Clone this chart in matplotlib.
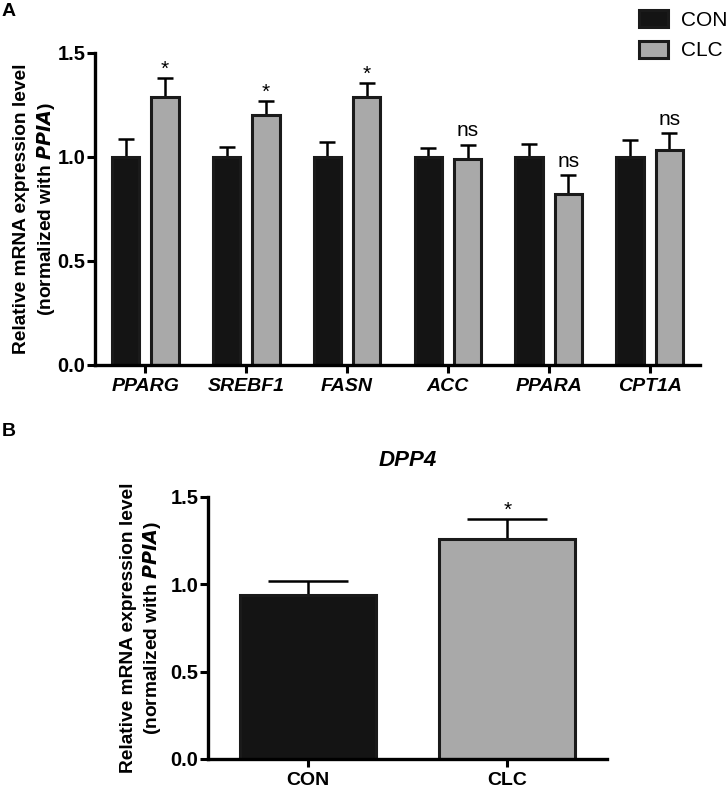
import numpy as np
import matplotlib
matplotlib.use("Agg")
import matplotlib.pyplot as plt
import matplotlib.patches as mpatches

plt.rcParams["font.family"] = ["Liberation Sans", "DejaVu Sans"]

# panel A data
genes = ["PPARG", "SREBF1", "FASN", "ACC", "PPARA", "CPT1A"]
con_mean = [1.0, 1.0, 1.0, 1.0, 1.0, 1.0]
con_err = [0.087, 0.05, 0.07, 0.045, 0.063, 0.08]
clc_mean = [1.29, 1.20, 1.29, 0.99, 0.82, 1.035]
clc_err = [0.09, 0.07, 0.065, 0.07, 0.095, 0.08]
sig_a = ["*", "*", "*", "ns", "ns", "ns"]

# panel B data
groups_b = ["CON", "CLC"]
dpp4_mean = [0.94, 1.26]
dpp4_err = [0.08, 0.115]
sig_b = ["", "*"]

CON_C = "#141414"
CLC_C = "#a9a9a9"
EDGE = "#1a1a1a"

fig = plt.figure(figsize=(7.28, 7.91), dpi=100)
fig.patch.set_facecolor("white")

def style_axis(ax):
    for s in ["top", "right"]:
        ax.spines[s].set_visible(False)
    for s in ["left", "bottom"]:
        ax.spines[s].set_linewidth(2.4)
    ax.tick_params(axis="both", direction="out", width=2.2, length=6)
    ax.tick_params(axis="y", pad=1)
    ax.set_ylim(0, 1.5)
    ax.set_yticks([0, 0.5, 1.0, 1.5])
    ax.set_yticklabels(["0.0", "0.5", "1.0", "1.5"], fontsize=14.5, fontweight="bold")

def ylab(ax, pad):
    ax.set_ylabel("Relative mRNA expression level\n(normalized with $\\mathbfit{PPIA}$)",
                  fontsize=13.8, fontweight="bold", labelpad=pad, linespacing=1.3)

# ─── Panel A ───
axA = fig.add_axes([95/728, 1-365/791, 605/728, 312/791])
x = np.arange(len(genes))
w, off = 0.27, 0.195
axA.bar(x - off, con_mean, w, color=CON_C, edgecolor=EDGE, linewidth=2.2, zorder=2, label="CON")
axA.bar(x + off, clc_mean, w, color=CLC_C, edgecolor=EDGE, linewidth=2.2, zorder=2, label="CLC")
zeros = np.zeros(len(genes))
axA.errorbar(x - off, con_mean, yerr=[zeros, con_err], fmt="none", ecolor="black",
             elinewidth=1.8, capsize=6, capthick=1.8, zorder=1)
axA.errorbar(x + off, clc_mean, yerr=[zeros, clc_err], fmt="none", ecolor="black",
             elinewidth=1.8, capsize=6, capthick=1.8, zorder=1)
for i, s in enumerate(sig_a):
    top = clc_mean[i] + clc_err[i]
    if s == "*":
        axA.text(x[i] + off, top - 0.005, s, ha="center", va="bottom", fontsize=15)
    else:
        axA.text(x[i] + off, top + 0.02, s, ha="center", va="bottom", fontsize=15)
axA.set_xlim(-0.5, 5.5)
axA.set_xticks(x)
axA.set_xticklabels(genes, fontsize=14, fontweight="bold", fontstyle="italic")
style_axis(axA)
ylab(axA, 0)

fig.legend(handles=[mpatches.Patch(facecolor=CON_C, edgecolor=EDGE, linewidth=2.2, label="CON"),
                    mpatches.Patch(facecolor=CLC_C, edgecolor=EDGE, linewidth=2.2, label="CLC")],
           loc="upper left", bbox_to_anchor=(639/728, 1-10/791), frameon=False,
           fontsize=15, handlelength=1.4, handleheight=0.85, handletextpad=0.6,
           labelspacing=0.55, borderpad=0, borderaxespad=0)

fig.text(2/728, 1-12/791, "A", fontsize=14, fontweight="bold", va="center", ha="left")
fig.text(2/728, 1-431/791, "B", fontsize=14, fontweight="bold", va="center", ha="left")

# ─── Panel B ───
axB = fig.add_axes([208/728, 1-759/791, 399/728, 262/791])
xb = np.arange(len(groups_b))
axB.bar(xb, dpp4_mean, 0.68, color=[CON_C, CLC_C], edgecolor=EDGE, linewidth=2.2, zorder=2)
axB.errorbar(xb, dpp4_mean, yerr=[np.zeros(2), dpp4_err], fmt="none", ecolor="black",
             elinewidth=1.8, capsize=29, capthick=1.8, zorder=1)
for i, s in enumerate(sig_b):
    if s:
        axB.text(xb[i], dpp4_mean[i] + dpp4_err[i] - 0.005, s, ha="center", va="bottom", fontsize=15)
axB.set_xlim(-0.5, 1.5)
axB.set_xticks(xb)
axB.set_xticklabels(groups_b, fontsize=14, fontweight="bold")
style_axis(axB)
ylab(axB, 5)
axB.set_title("DPP4", fontsize=16, fontweight="bold", fontstyle="italic", pad=22)

fig.savefig("out.png", dpi=100)
